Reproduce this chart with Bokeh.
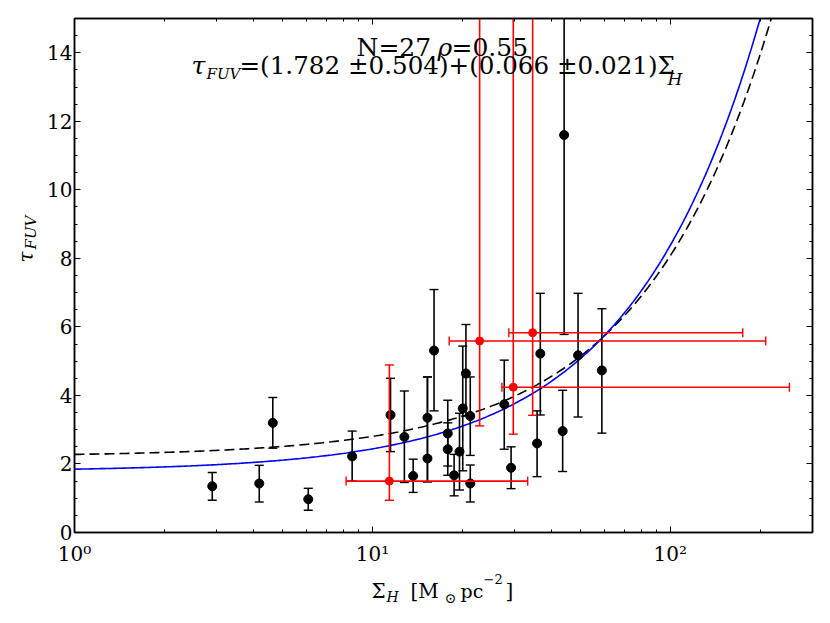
import math
import numpy as np
from bokeh.plotting import figure
from bokeh.layouts import row, column
from bokeh.models import (ColumnDataSource, Label, LinearAxis, LogAxis, FixedTicker,
                          SingleIntervalTicker, Range1d, CustomJSTickFormatter)
from bokeh.embed import file_html
from bokeh.resources import INLINE

# ---------------- data ----------------
black_x = [2.90, 4.17, 4.63, 6.09, 8.55, 11.5, 12.8, 13.7, 15.3, 15.3, 16.1, 17.9, 17.9,
           18.8, 19.6, 20.1, 20.6, 21.3, 21.3, 27.7, 29.2, 35.7, 36.6, 43.5, 44.0, 49.0, 58.9]
black_y = [1.35, 1.43, 3.20, 0.97, 2.22, 3.43, 2.79, 1.65, 3.35, 2.16, 5.31, 2.89, 2.43,
           1.67, 2.36, 3.62, 4.64, 3.40, 1.43, 3.74, 1.89, 2.60, 5.22, 2.96, 11.6, 5.17, 4.73]
black_hi = [1.75, 1.96, 3.94, 1.29, 2.96, 4.50, 4.13, 2.14, 4.54, 4.54, 7.09, 3.86, 3.20,
            2.28, 3.48, 5.44, 6.07, 4.54, 1.97, 5.03, 2.50, 3.55, 6.98, 4.15, 20.0, 6.98, 6.53]
black_lo = [0.94, 0.89, 2.46, 0.65, 1.50, 2.36, 1.46, 1.17, 1.48, 1.48, 3.55, 1.94, 1.67,
            1.07, 1.24, 1.80, 3.40, 2.25, 0.89, 2.43, 1.28, 1.63, 3.43, 1.78, 5.78, 3.37, 2.90]

red_x = [11.4, 22.9, 29.7, 34.5]
red_y = [1.50, 5.59, 4.24, 5.83]
red_yhi = [4.89, 20.0, 20.0, 20.0]
red_ylo = [0.94, 3.11, 2.87, 3.42]
red_xlo = [8.16, 18.1, 27.2, 28.7]
red_xhi = [33.2, 209.0, 251.0, 175.0]

# fit coefficients (intercept, slope)
fit_blue = (1.782, 0.066)
fit_dashed = (2.22, 0.0586)

x_major = [1, 10, 100]
x_major_labels = {1: "10\u2070", 10: "10\u00b9", 100: "10\u00b2"}
x_minor = [2, 3, 4, 5, 6, 7, 8, 9, 20, 30, 40, 50, 60, 70, 80, 90, 200, 300]

# ---------------- layout constants (page px) ----------------
YLAB_W = 44          # width of the strip holding the y-axis title
MAIN_H = 568         # height of the main figure
XLAB_H = 55          # height of the strip holding the x-axis title
FL, FB = 73.0, 533.0 # frame left / bottom in page px
BL, BR = int(FL) - YLAB_W, 20
MAIN_W = BL + 739 + BR
FULL_W = YLAB_W + MAIN_W

FONT = "DejaVu Serif"

p = figure(width=MAIN_W, height=MAIN_H, x_axis_type="log",
           x_range=Range1d(1, 300), y_range=Range1d(0, 15),
           output_backend="svg", toolbar_location=None,
           min_border_left=BL, min_border_right=BR, min_border_top=18,
           min_border_bottom=MAIN_H - 18 - 515)
p.grid.visible = False
p.outline_line_color = "black"
p.outline_line_width = 1.5
p.background_fill_color = "white"
p.border_fill_color = "white"


def style_axis(ax):
    ax.axis_line_color = "black"
    ax.axis_line_width = 1.5
    ax.major_tick_in = 6
    ax.major_tick_out = 0
    ax.minor_tick_in = 3
    ax.minor_tick_out = 0
    ax.major_tick_line_color = "black"
    ax.minor_tick_line_color = "black"
    ax.major_label_text_font = FONT
    ax.major_label_text_font_size = "20px"
    ax.major_label_text_color = "black"


xt = FixedTicker(ticks=x_major, minor_ticks=x_minor)
yt = SingleIntervalTicker(interval=2, num_minor_ticks=4)

xa = p.xaxis[0]
xa.ticker = xt
xa.major_label_overrides = x_major_labels
style_axis(xa)
xa.major_label_standoff = 9

ya = p.yaxis[0]
ya.ticker = yt
style_axis(ya)
ya.major_label_standoff = 2

blank = CustomJSTickFormatter(code="return ''")
top = LogAxis(ticker=xt, formatter=blank)
style_axis(top)
p.add_layout(top, "above")
right = LinearAxis(ticker=yt, formatter=blank)
style_axis(right)
right.major_label_standoff = 0
p.add_layout(right, "right")

# fit lines
fx = np.logspace(0, math.log10(300), 400)
p.line(fx, fit_dashed[0] + fit_dashed[1] * fx, line_color="black", line_width=1.6,
       line_dash="10 5")
p.line(fx, fit_blue[0] + fit_blue[1] * fx, line_color="#0000ff", line_width=1.6)

# black points with vertical error bars
bsrc = ColumnDataSource(dict(x=black_x, y=black_y, hi=black_hi, lo=black_lo))
p.segment(x0="x", y0="lo", x1="x", y1="hi", source=bsrc, line_color="black", line_width=1.6)
p.scatter(x="x", y="hi", source=bsrc, marker="dash", size=9, line_color="black",
          line_width=1.4)
p.scatter(x="x", y="lo", source=bsrc, marker="dash", size=9, line_color="black",
          line_width=1.4)
p.scatter(x="x", y="y", source=bsrc, marker="circle", size=9, fill_color="black",
          line_color="black")

# red points with x and y error bars
rsrc = ColumnDataSource(dict(x=red_x, y=red_y, yhi=red_yhi, ylo=red_ylo,
                             xlo=red_xlo, xhi=red_xhi))
RED = "#ff0000"
p.segment(x0="x", y0="ylo", x1="x", y1="yhi", source=rsrc, line_color=RED, line_width=1.6)
p.segment(x0="xlo", y0="y", x1="xhi", y1="y", source=rsrc, line_color=RED, line_width=1.6)
for col in ("yhi", "ylo"):
    p.scatter(x="x", y=col, source=rsrc, marker="dash", size=9, line_color=RED,
              line_width=1.4)
for col in ("xlo", "xhi"):
    p.scatter(x=col, y="y", source=rsrc, marker="dash", size=9, angle=math.pi / 2,
              line_color=RED, line_width=1.4)
p.scatter(x="x", y="y", source=rsrc, marker="circle", size=8, fill_color=RED,
          line_color=RED)


# ---------------- text ----------------
def mk_label(target, text, sx, sy, size, italic=False, align="left", angle=0.0,
             baseline="alphabetic"):
    target.add_layout(Label(x=sx, y=sy, x_units="screen", y_units="screen",
                            text=text, text_font=FONT,
                            text_font_size=f"{size}px",
                            text_font_style="italic" if italic else "normal",
                            text_align=align, text_baseline=baseline,
                            angle=angle, text_color="black"))


def lab(text, px, py, size, italic=False, align="left"):
    # inside the main frame: relative to frame bottom-left
    mk_label(p, text, px - FL, FB - py, size, italic, align)


# annotation lines
lab("N=27", 355, 48, 25)
lab("\u03c1", 436, 48, 25, italic=True)
lab("=0.55", 450, 48, 25)
lab("\u03c4", 190, 66, 25, italic=True)
lab("FUV", 205, 74, 15, italic=True)
lab("=(1.782 \u00b10.504)+(0.066 \u00b10.021)\u03a3", 238, 66, 24.6)
lab("H", 666, 79, 17, italic=True)


def strip(w, h):
    f = figure(width=w, height=h, x_range=Range1d(0, w), y_range=Range1d(0, h),
               x_axis_location=None, y_axis_location=None,
               min_border_left=0, min_border_right=0, min_border_top=0,
               min_border_bottom=0,
               output_backend="svg", toolbar_location=None)
    f.grid.visible = False
    f.outline_line_color = None
    f.background_fill_color = "white"
    f.border_fill_color = "white"
    return f


# y-axis title strip (page x 0..YLAB_W, page y 0..MAIN_H)
ylab = strip(YLAB_W, MAIN_H)
mk_label(ylab, "\u03c4", 25, MAIN_H - 298, 20, italic=True, angle=math.pi / 2,
         baseline="middle")
mk_label(ylab, "FUV", 30, MAIN_H - 285, 15, italic=True, angle=math.pi / 2,
         baseline="middle")

# x-axis title strip spanning the full page width, directly below
xlab = strip(FULL_W, XLAB_H)
ytop = MAIN_H + XLAB_H


def xl(text, px, py, size, italic=False):
    mk_label(xlab, text, px, ytop - py, size, italic)


xl("\u03a3", 371, 590, 20)
xl("H", 386, 596, 14, italic=True)
xl("[M", 410, 590, 20)
xl("\u2299", 444, 597, 14)
xl("pc", 460, 590, 19)
xl("\u22122", 483, 578, 13)
xl("]", 505, 590, 20)

layout = column(row(ylab, p, spacing=0), xlab, spacing=0)
open("out.html", "w").write(file_html(layout, INLINE))
